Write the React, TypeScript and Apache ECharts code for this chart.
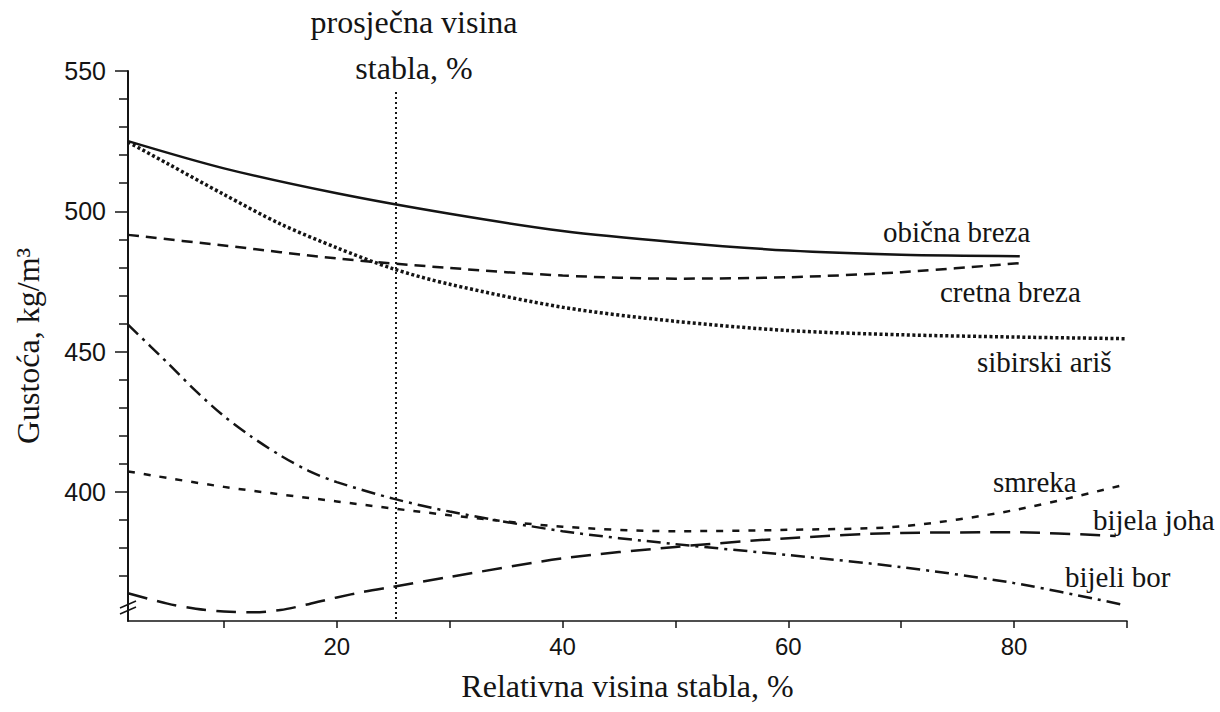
import React, { useEffect, useRef } from "react";
import * as echarts from "echarts";

// ---- data ----
const xObicna = [1.5, 10, 20, 30, 40, 50, 60, 70, 80.5];
const yObicna = [525, 515.3, 506.4, 499.1, 493, 489, 486, 484.5, 484];

const xCretna = [1.5, 10, 20, 30, 40, 50, 60, 70, 81];
const yCretna = [491.6, 487.8, 483.2, 479.8, 477.1, 476, 476.5, 478.3, 481.7];

const xAris = [1.5, 5, 10, 15, 20, 25, 30, 40, 50, 60, 70, 80, 90];
const yAris = [524.7, 517, 506, 495.5, 487, 479.5, 474, 465.8, 460.8, 457.5, 456, 455.2, 454.6];

const xSmreka = [1.5, 10, 20, 30, 40, 50, 60, 70, 80, 90];
const ySmreka = [407.3, 401.8, 396.6, 391.7, 387.6, 386, 386.5, 387.7, 393.5, 402.8];

const xJoha = [1.5, 5, 7.5, 10, 12.5, 15, 17.5, 20, 22.5, 25, 30, 40, 50, 60, 70, 80, 89];
const yJoha = [363.9, 360.2, 358.4, 357.4, 357.1, 357.9, 360, 362.4, 364.5, 366.2, 369.7, 376.3, 380.4, 383.5, 385.4, 385.6, 384.3];

const xBor = [1.5, 5, 7.5, 10, 12.5, 15, 17.5, 20, 25, 30, 40, 50, 60, 70, 80, 89.4];
const yBor = [459.6, 446, 436, 427, 419.5, 413, 407.5, 403.5, 397.6, 393, 386, 381.4, 377.5, 373.2, 367.5, 360];

const seriesNames = ["obična breza", "cretna breza", "sibirski ariš", "smreka", "bijela joha", "bijeli bor"];

const xTickValues = [10, 20, 30, 40, 50, 60, 70, 80, 90];
const xLabelValues = [20, 40, 60, 80];
const yMajorValues = [400, 450, 500, 550];
const yMinorValues = [370, 380, 390, 410, 420, 430, 440, 460, 470, 480, 490, 510, 520, 530, 540];

const meanHeight = 25.2; // prosječna visina stabla, %
const meanLineTop = 542.5;
const yMin = 354;
const yMax = 550;

const zip = (xs: number[], ys: number[]) => xs.map((x, i) => [x, ys[i]]);

const SERIF = "Liberation Serif";
const SANS = "Liberation Sans";
const INK = "#141414";

export default function App() {
  const ref = useRef<HTMLDivElement>(null);

  useEffect(() => {
    if (!ref.current) return;
    const chart = echarts.init(ref.current, null, { renderer: "svg" });

    const line = (name: string, data: number[][], width: number, type: any, extra: any = {}) => ({
      name,
      type: "line",
      data,
      smooth: 0.3,
      showSymbol: false,
      symbol: "none",
      silent: true,
      lineStyle: { color: INK, width, type, cap: "butt" },
      ...extra,
    });

    const label = (text: string, x: number, y: number, size = 29) => ({
      type: "text",
      x,
      y,
      silent: true,
      style: { text, fontFamily: SERIF, fontSize: size, fill: INK, align: "left", verticalAlign: "middle" },
    });

    const option: any = {
      animation: false,
      backgroundColor: "#ffffff",
      textStyle: { fontFamily: SANS },
      grid: { left: 128, right: 93, top: 71, bottom: 91, containLabel: false, outerBoundsMode: "none" },
      xAxis: {
        type: "value",
        min: 1.5,
        max: 90,
        name: "Relativna visina stabla, %",
        nameLocation: "middle",
        nameGap: 49,
        nameTextStyle: { fontFamily: SERIF, fontSize: 32, color: INK },
        axisLine: { show: true, onZero: false, lineStyle: { color: INK, width: 1.5 } },
        axisTick: { show: true, inside: false, length: 7, customValues: xTickValues, lineStyle: { color: INK, width: 1.5 } },
        axisLabel: { customValues: xLabelValues, margin: 13, fontFamily: SANS, fontSize: 24, color: INK },
        splitLine: { show: false },
      },
      yAxis: [
        {
          type: "value",
          min: yMin,
          max: yMax,
          name: "Gustoća, kg/m³",
          nameLocation: "middle",
          nameGap: 84,
          nameRotate: 90,
          nameTextStyle: { fontFamily: SERIF, fontSize: 32, color: INK },
          axisLine: { show: true, onZero: false, lineStyle: { color: INK, width: 2 } },
          axisTick: { show: true, inside: false, length: 13, customValues: yMajorValues, lineStyle: { color: INK, width: 1.5 } },
          axisLabel: { customValues: yMajorValues, margin: 22, fontFamily: SANS, fontSize: 25, color: INK },
          splitLine: { show: false },
        },
        {
          type: "value",
          min: yMin,
          max: yMax,
          position: "left",
          axisLine: { show: false },
          axisTick: { show: true, inside: false, length: 9, customValues: yMinorValues, lineStyle: { color: INK, width: 1.5 } },
          axisLabel: { show: false },
          splitLine: { show: false },
        },
      ],
      series: [
        line(seriesNames[0], zip(xObicna, yObicna), 2.5, "solid", {
          markLine: {
            silent: true,
            symbol: "none",
            label: { show: false },
            lineStyle: { color: INK, width: 2, type: [2, 3] },
            data: [[{ coord: [meanHeight, meanLineTop] }, { coord: [meanHeight, yMin] }]],
          },
        }),
        line(seriesNames[1], zip(xCretna, yCretna), 2.5, [11, 7]),
        line(seriesNames[2], zip(xAris, yAris), 3.5, [3, 2.5]),
        line(seriesNames[3], zip(xSmreka, ySmreka), 2.5, [7, 9]),
        line(seriesNames[4], zip(xJoha, yJoha), 2.5, [20, 10]),
        line(seriesNames[5], zip(xBor, yBor), 2.5, [14, 6, 3, 6]),
      ],
      graphic: [
        // axis break marks
        { type: "line", shape: { x1: 120, y1: 608, x2: 136, y2: 601 }, style: { stroke: INK, lineWidth: 1.5 }, silent: true },
        { type: "line", shape: { x1: 120, y1: 614, x2: 136, y2: 607 }, style: { stroke: INK, lineWidth: 1.5 }, silent: true },
        // annotation above mean-height line
        { type: "text", x: 414, y: 22, silent: true, style: { text: "prosječna visina", fontFamily: SERIF, fontSize: 32, fill: INK, align: "center", verticalAlign: "middle" } },
        { type: "text", x: 414, y: 68, silent: true, style: { text: "stabla, %", fontFamily: SERIF, fontSize: 32, fill: INK, align: "center", verticalAlign: "middle" } },
        // curve labels
        label(seriesNames[0], 883, 232),
        label(seriesNames[1], 940, 292),
        label(seriesNames[2], 977, 362),
        label(seriesNames[3], 993, 482),
        label(seriesNames[4], 1093, 520),
        label(seriesNames[5], 1065, 577),
      ],
    };

    chart.setOption(option);
    return () => chart.dispose();
  }, []);

  return (
    <div
      ref={ref}
      style={{ position: "fixed", left: 0, top: 0, width: 1220, height: 712, background: "#fff" }}
    />
  );
}
